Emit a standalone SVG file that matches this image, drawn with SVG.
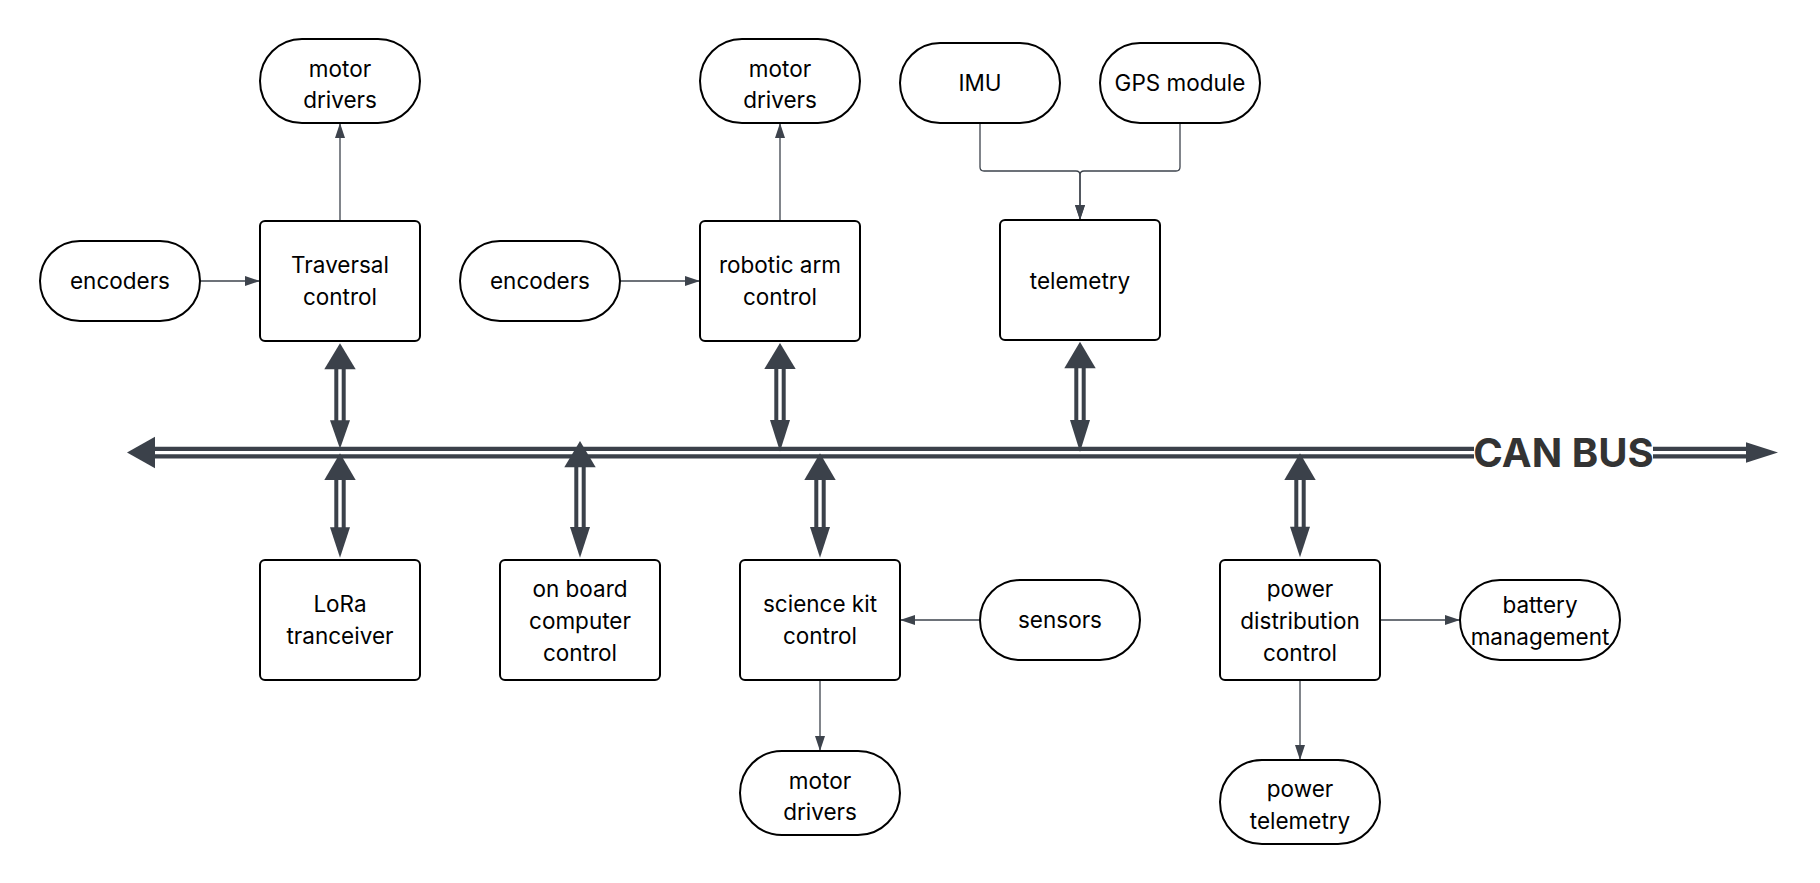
<svg xmlns="http://www.w3.org/2000/svg" width="1820" height="883" viewBox="0 0 1820 883">
<style>
.box{fill:#fff;stroke:#000;stroke-width:2}
.t{font-family:Inter,"Noto Sans",sans-serif;font-size:22.5px;fill:#000;text-anchor:middle}
.thin{fill:none;stroke:#3d434c;stroke-width:1.3}
.bus{stroke:#3b414a;stroke-width:4.3;fill:none}
.dl{stroke:#3b414a;stroke-width:4;fill:none}
.ah{fill:#3b414a}
.can{font-family:Inter,"Liberation Sans",sans-serif;font-size:40px;font-weight:700;fill:#333}
</style>
<defs>
<marker id="arr" markerUnits="userSpaceOnUse" viewBox="0 0 15 10" refX="15" refY="5" markerWidth="15" markerHeight="10" orient="auto">
<path d="M0,0 L15,5 L0,10 Z" fill="#3d434c"/>
</marker>
</defs>
<rect width="1820" height="883" fill="#fff"/>

<g id="connectors">
<!-- thin arrows -->
<path class="thin" d="M340,221 V123" marker-end="url(#arr)"/>
<path class="thin" d="M780,221 V123" marker-end="url(#arr)"/>
<path class="thin" d="M200,281 H260" marker-end="url(#arr)"/>
<path class="thin" d="M620,281 H700" marker-end="url(#arr)"/>
<path class="thin" d="M980,123 V167 Q980,171 984,171 H1076 Q1080,171 1080,175 V220" marker-end="url(#arr)"/>
<path class="thin" d="M1180,123 V167 Q1180,171 1176,171 H1084 Q1080,171 1080,175 V220" marker-end="url(#arr)"/>
<path class="thin" d="M980,620 H900" marker-end="url(#arr)"/>
<path class="thin" d="M820,680 V751" marker-end="url(#arr)"/>
<path class="thin" d="M1380,620 H1460" marker-end="url(#arr)"/>
<path class="thin" d="M1300,680 V760" marker-end="url(#arr)"/>

<!-- CAN bus -->
<g id="canbus">
<path class="bus" d="M153,448.8 H1474 M1653,448.8 H1748 M153,456.3 H1474 M1653,456.3 H1748"/>
<polygon class="ah" points="127,452.5 155,436.7 155,468.3"/>
<polygon class="ah" points="1778,452.5 1746,442.3 1746,462.7"/>
<text class="can" x="1563.5" y="466.5" text-anchor="middle">CAN BUS</text>
</g>

<!-- double arrows, top side -->
<g id="dbl-traversal">
<path class="dl" d="M336.3,368 V421 M343.7,368 V421"/>
<polygon class="ah" points="340,343.3 324.3,369.3 355.7,369.3"/>
<polygon class="ah" points="340,448.8 330,420.3 350,420.3"/>
</g>
<g id="dbl-arm">
<path class="dl" d="M776.3,368 V421 M783.7,368 V421"/>
<polygon class="ah" points="780,343 764.3,369 795.7,369"/>
<polygon class="ah" points="780,451.5 770,420 790,420"/>
</g>
<g id="dbl-telemetry">
<path class="dl" d="M1076.3,367 V421 M1083.7,367 V421"/>
<polygon class="ah" points="1080,341.7 1064.3,368.3 1095.7,368.3"/>
<polygon class="ah" points="1080,452 1070,420 1090,420"/>
</g>
<!-- double arrows, bottom side -->
<g id="dbl-lora">
<path class="dl" d="M336.3,479 V528 M343.7,479 V528"/>
<polygon class="ah" points="340,453.3 324.3,480 355.7,480"/>
<polygon class="ah" points="340,557.7 330,527.3 350,527.3"/>
</g>
<g id="dbl-obc">
<path class="dl" d="M576.3,466 V528 M583.7,466 V528"/>
<polygon class="ah" points="580,441 564.3,467.3 595.7,467.3"/>
<polygon class="ah" points="580,557.7 570,527 590,527"/>
</g>
<g id="dbl-science">
<path class="dl" d="M816.3,479 V528 M823.7,479 V528"/>
<polygon class="ah" points="820,453.3 804.3,480 835.7,480"/>
<polygon class="ah" points="820,557.7 810,527 830,527"/>
</g>
<g id="dbl-power">
<path class="dl" d="M1296.3,479 V528 M1303.7,479 V528"/>
<polygon class="ah" points="1300,453.3 1284.3,480 1315.7,480"/>
<polygon class="ah" points="1300,557.3 1290,526.7 1310,526.7"/>
</g>
</g>

<g id="md1"><rect class="box" x="260" y="39" width="160" height="84" rx="42"/><text class="t" x="340" y="77">motor</text><text class="t" x="340" y="108">drivers</text></g>
<g id="traversal"><rect class="box" x="260" y="221" width="160" height="120" rx="5"/><text class="t" x="340" y="273">Traversal</text><text class="t" x="340" y="304.5">control</text></g>
<g id="enc1"><rect class="box" x="40" y="241" width="160" height="80" rx="40"/><text class="t" x="120" y="288.5">encoders</text></g>
<g id="enc2"><rect class="box" x="460" y="241" width="160" height="80" rx="40"/><text class="t" x="540" y="288.5">encoders</text></g>
<g id="md2"><rect class="box" x="700" y="39" width="160" height="84" rx="42"/><text class="t" x="780" y="77">motor</text><text class="t" x="780" y="108">drivers</text></g>
<g id="arm"><rect class="box" x="700" y="221" width="160" height="120" rx="5"/><text class="t" x="780" y="273">robotic arm</text><text class="t" x="780" y="304.5">control</text></g>
<g id="imu"><rect class="box" x="900" y="43" width="160" height="80" rx="40"/><text class="t" x="980" y="91">IMU</text></g>
<g id="gps"><rect class="box" x="1100" y="43" width="160" height="80" rx="40"/><text class="t" x="1180" y="91">GPS module</text></g>
<g id="telemetry"><rect class="box" x="1000" y="220" width="160" height="120" rx="5"/><text class="t" x="1080" y="288.5">telemetry</text></g>
<g id="lora"><rect class="box" x="260" y="560" width="160" height="120" rx="5"/><text class="t" x="340" y="612">LoRa</text><text class="t" x="340" y="643.5">tranceiver</text></g>
<g id="obc"><rect class="box" x="500" y="560" width="160" height="120" rx="5"/><text class="t" x="580" y="596.5">on board</text><text class="t" x="580" y="628.5">computer</text><text class="t" x="580" y="660.5">control</text></g>
<g id="science"><rect class="box" x="740" y="560" width="160" height="120" rx="5"/><text class="t" x="820" y="611.5">science kit</text><text class="t" x="820" y="643.5">control</text></g>
<g id="sensors"><rect class="box" x="980" y="580" width="160" height="80" rx="40"/><text class="t" x="1060" y="627.5">sensors</text></g>
<g id="md3"><rect class="box" x="740" y="751" width="160" height="84" rx="42"/><text class="t" x="820" y="788.5">motor</text><text class="t" x="820" y="820">drivers</text></g>
<g id="pdc"><rect class="box" x="1220" y="560" width="160" height="120" rx="5"/><text class="t" x="1300" y="596.5">power</text><text class="t" x="1300" y="628.5">distribution</text><text class="t" x="1300" y="660.5">control</text></g>
<g id="battery"><rect class="box" x="1460" y="580" width="160" height="80" rx="40"/><text class="t" x="1540" y="612.5">battery</text><text class="t" x="1540" y="644.5">management</text></g>
<g id="ptel"><rect class="box" x="1220" y="760" width="160" height="84" rx="42"/><text class="t" x="1300" y="797">power</text><text class="t" x="1300" y="828.5">telemetry</text></g>
</svg>
